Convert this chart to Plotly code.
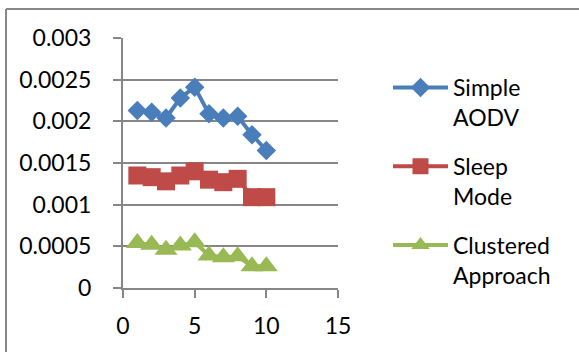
import plotly.graph_objects as go

x_vals = [1, 2, 3, 4, 5, 6, 7, 8, 9, 10]
simple_aodv = [0.00213, 0.00211, 0.00204, 0.00228, 0.00241, 0.00209, 0.00204, 0.00206, 0.00184, 0.00165]
sleep_mode = [0.00135, 0.00133, 0.00128, 0.00135, 0.00140, 0.00130, 0.00127, 0.00131, 0.00109, 0.00109]
clustered = [0.00054, 0.00052, 0.00046, 0.00051, 0.00055, 0.00039, 0.00037, 0.00038, 0.00026, 0.00026]

series_names = ["Simple<br>AODV", "Sleep<br>Mode", "Clustered<br>Approach"]
y_tickvals = [0, 0.0005, 0.001, 0.0015, 0.002, 0.0025, 0.003]
y_ticktext = ["0", "0.0005", "0.001", "0.0015", "0.002", "0.0025", "0.003"]
x_tickvals = [0, 5, 10, 15]
x_ticktext = ["0", "5", "10", "15"]

FONT = "Lato, 'Open Sans', sans-serif"
W, H = 579, 352
L, R, T, B = 123, 241, 38, 64

fig = go.Figure()
styles = [
    (simple_aodv, "#4A7EBB", "diamond", 15),
    (sleep_mode, "#BE4B48", "square", 18),
    (clustered, "#98B954", "triangle-up", 20),
]
for (vals, color, sym, size), name in zip(styles, series_names):
    fig.add_trace(go.Scatter(
        x=x_vals, y=vals, name=name, mode="lines+markers",
        legendgroup=name,
        line=dict(color=color, width=4),
        marker=dict(symbol=sym, size=size, color=color, line=dict(width=0)),
    ))

pw = W - L - R
ph = H - T - B
fig.update_layout(
    width=W, height=H,
    margin=dict(l=L, r=R, t=T, b=B, pad=0, autoexpand=False),
    paper_bgcolor="white", plot_bgcolor="white",
    font=dict(family=FONT, size=23, color="black"),
    showlegend=True,
    legend=dict(
        x=(388 - L) / pw, xanchor="left",
        y=(H - 66 - B) / ph, yanchor="top",
        valign="top", traceorder="grouped", tracegroupgap=16,
        itemwidth=55, font=dict(size=23, family=FONT),
        bgcolor="rgba(0,0,0,0)",
    ),
    xaxis=dict(
        range=[0, 15], tickvals=x_tickvals, ticktext=x_ticktext,
        showgrid=False, showline=True, linecolor="#868686", linewidth=2,
        ticks="outside", ticklen=8, tickcolor="#868686", tickwidth=2,
        ticklabelstandoff=8, zeroline=False, automargin=False,
    ),
    yaxis=dict(
        range=[0, 0.003], tickvals=y_tickvals, ticktext=y_ticktext,
        showgrid=True, gridcolor="#868686", gridwidth=2,
        showline=True, linecolor="#868686", linewidth=2,
        ticks="outside", ticklen=8, tickcolor="#868686", tickwidth=2,
        ticklabelstandoff=17, zeroline=False, automargin=False,
    ),
    shapes=[
        dict(type="line", xref="paper", yref="paper",
             x0=(6 - L) / pw, x1=(W - L) / pw,
             y0=(H - 9 - B) / ph, y1=(H - 9 - B) / ph,
             line=dict(color="#888888", width=2)),
        dict(type="line", xref="paper", yref="paper",
             x0=(6 - L) / pw, x1=(6 - L) / pw,
             y0=(H - 9 - B) / ph, y1=-B / ph,
             line=dict(color="#888888", width=2)),
    ],
)

fig.write_html(
    "out.html",
    config={"displayModeBar": False},
    post_script="document.body.style.margin='0px';document.body.style.overflow='hidden';",
)
